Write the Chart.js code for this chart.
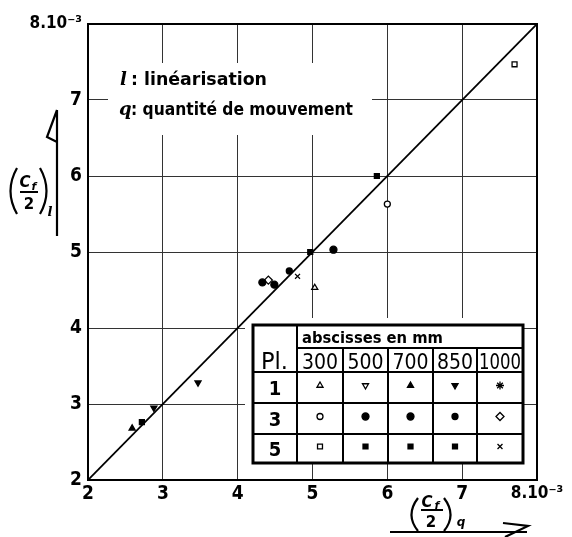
<!DOCTYPE html>
<html>
<head>
<meta charset="utf-8">
<script src="https://cdn.jsdelivr.net/npm/chart.js@4.4.1/dist/chart.umd.min.js"></script>
<style>
  body { margin: 0; background: #fff; }
  #cadre { width: 572px; height: 537px; }
</style>
</head>
<body>
<div id="cadre"><canvas id="graphe" width="572" height="537"></canvas></div>
<script>
// axes : (Cf/2) en 10^-3
var ticksAxe = [2, 3, 4, 5, 6, 7, 8];
var planches = [1, 3, 5];
var abscisses = [300, 500, 700, 850, 1000];

// points mesurés : q (quantité de mouvement) en x, l (linéarisation) en y
var pointsQ = [2.59, 2.72, 2.88, 3.47, 4.33, 4.41, 4.49, 4.69, 4.80, 5.03, 4.97, 5.28, 5.86, 6.00, 7.70];
var pointsL = [2.68, 2.76, 2.95, 3.28, 4.60, 4.63, 4.57, 4.75, 4.68, 4.53, 5.00, 5.03, 6.00, 5.63, 7.47];
var pointsPl = [1, 5, 1, 1, 3, 3, 3, 3, 5, 1, 5, 3, 5, 3, 5];
var pointsAbs = [700, 500, 850, 850, 500, 1000, 700, 850, 1000, 300, 700, 500, 850, 300, 300];

// droite l = q
var diagonale = [2, 8];

// symbole de chaque couple planche / abscisse
var symboles = {
  '1-300':  { style: 'triangle', plein: false, r: 3.5, rot: 0 },
  '1-500':  { style: 'triangle', plein: false, r: 3.5, rot: 180 },
  '1-700':  { style: 'triangle', plein: true,  r: 3.5, rot: 0 },
  '1-850':  { style: 'triangle', plein: true,  r: 3.5, rot: 180 },
  '1-1000': { style: 'star',     plein: true,  r: 4,   rot: 0 },
  '3-300':  { style: 'circle',   plein: false, r: 3,   rot: 0 },
  '3-500':  { style: 'circle',   plein: true,  r: 3.5, rot: 0 },
  '3-700':  { style: 'circle',   plein: true,  r: 3.5, rot: 0 },
  '3-850':  { style: 'circle',   plein: true,  r: 3,   rot: 0 },
  '3-1000': { style: 'rectRot',  plein: false, r: 4,   rot: 0 },
  '5-300':  { style: 'rect',     plein: false, r: 3.5, rot: 0 },
  '5-500':  { style: 'rect',     plein: true,  r: 3.5, rot: 0 },
  '5-700':  { style: 'rect',     plein: true,  r: 3.5, rot: 0 },
  '5-850':  { style: 'rect',     plein: true,  r: 3.5, rot: 0 },
  '5-1000': { style: 'crossRot', plein: false, r: 3.5, rot: 0 }
};

var datasets = [{
  type: 'line',
  data: diagonale.map(function (v) { return { x: v, y: v }; }),
  borderColor: '#000',
  borderWidth: 1.8,
  pointRadius: 0
}];

Object.keys(symboles).forEach(function (cle) {
  var pts = [];
  for (var i = 0; i < pointsQ.length; i++) {
    if (pointsPl[i] + '-' + pointsAbs[i] === cle) pts.push({ x: pointsQ[i], y: pointsL[i] });
  }
  if (!pts.length) return;
  var s = symboles[cle];
  datasets.push({
    type: 'scatter',
    data: pts,
    pointStyle: s.style,
    rotation: s.rot,
    pointRadius: s.r,
    pointBorderWidth: 1.3,
    pointBorderColor: '#000',
    pointBackgroundColor: s.plein ? '#000' : '#fff'
  });
});

function texteAjuste(ctx, txt, x, y, largeur) {
  var w = ctx.measureText(txt).width;
  ctx.save();
  ctx.translate(x, y);
  ctx.scale(largeur / w, 1);
  ctx.fillText(txt, 0, 0);
  ctx.restore();
}

function symbole(ctx, s, x, y) {
  ctx.save();
  ctx.fillStyle = s.plein ? '#000' : '#fff';
  ctx.strokeStyle = '#000';
  ctx.lineWidth = 1.3;
  if (Chart.helpers && Chart.helpers.drawPoint) {
    Chart.helpers.drawPoint(ctx, { pointStyle: s.style, radius: s.r, rotation: s.rot, borderWidth: 1.3 }, x, y);
  } else {
    ctx.beginPath(); ctx.arc(x, y, s.r, 0, Math.PI * 2); ctx.fill(); ctx.stroke();
  }
  ctx.restore();
}

var habillage = {
  id: 'habillage',
  beforeDatasetsDraw: function (chart) {
    var ctx = chart.ctx;
    ctx.save();
    // blancs dans le quadrillage (légende et tableau)
    ctx.fillStyle = '#fff';
    ctx.fillRect(108, 63, 264, 72);
    ctx.fillRect(245, 318, 279, 146);

    // légende
    ctx.fillStyle = '#000';
    ctx.textBaseline = 'alphabetic';
    ctx.font = 'italic bold 18px "DejaVu Serif"';
    ctx.fillText('l', 120, 85);
    ctx.fillText('q', 119, 115);
    ctx.font = 'bold 17px "DejaVu Sans Condensed", "DejaVu Sans"';
    texteAjuste(ctx, ': linéarisation', 131, 85, 136);
    texteAjuste(ctx, ': quantité de mouvement', 131, 115, 222);

    // tableau des symboles
    var cols = [253, 297, 343, 388, 433, 477, 523];
    var rangs = [325, 348, 372, 403, 434, 463];
    ctx.strokeStyle = '#000';
    ctx.lineWidth = 2;
    ctx.beginPath();
    for (var r = 1; r < rangs.length - 1; r++) {
      var x0 = (r === 1) ? cols[1] : cols[0];
      ctx.moveTo(x0, rangs[r]); ctx.lineTo(cols[6], rangs[r]);
    }
    for (var c = 1; c < cols.length - 1; c++) {
      var y0 = (c === 1) ? rangs[0] : rangs[1];
      ctx.moveTo(cols[c], y0); ctx.lineTo(cols[c], rangs[5]);
    }
    ctx.stroke();
    ctx.lineWidth = 3;
    ctx.strokeRect(cols[0], rangs[0], cols[6] - cols[0], rangs[5] - rangs[0]);

    ctx.textAlign = 'left';
    ctx.font = 'bold 15px "DejaVu Sans Condensed", "DejaVu Sans"';
    texteAjuste(ctx, 'abscisses en mm', 302, 343, 141);
    ctx.font = '23px "DejaVu Sans Condensed", "DejaVu Sans"';
    texteAjuste(ctx, 'Pl.', 261, 369, 27);
    ctx.font = '21px "DejaVu Sans Condensed", "DejaVu Sans"';
    ctx.textAlign = 'center';
    abscisses.forEach(function (a, i) {
      var cx = (cols[i + 1] + cols[i + 2]) / 2;
      var w = ctx.measureText(String(a)).width;
      var larg = Math.min(w, cols[i + 2] - cols[i + 1] - 4);
      ctx.save();
      ctx.translate(cx, 369);
      ctx.scale(larg / w, 1);
      ctx.fillText(String(a), 0, 0);
      ctx.restore();
    });
    ctx.font = 'bold 20px "DejaVu Sans Condensed", "DejaVu Sans"';
    planches.forEach(function (p, j) {
      var cy = (rangs[j + 2] + rangs[j + 3]) / 2;
      ctx.fillText(String(p), (cols[0] + cols[1]) / 2, cy + 7);
      abscisses.forEach(function (a, i) {
        var cx = (cols[i + 1] + cols[i + 2]) / 2;
        symbole(ctx, symboles[p + '-' + a], cx, cy - 2);
      });
    });
    ctx.restore();
  },
  afterDraw: function (chart) {
    var ctx = chart.ctx, a = chart.chartArea;
    ctx.save();
    ctx.strokeStyle = '#000';
    ctx.lineWidth = 2;
    ctx.strokeRect(a.left, a.top, a.right - a.left, a.bottom - a.top);

    ctx.fillStyle = '#000';
    ctx.lineWidth = 2.2;
    ctx.textAlign = 'center';
    ctx.textBaseline = 'alphabetic';

    // titre axe vertical (Cf/2)l et sa flèche
    ctx.beginPath();
    ctx.moveTo(17, 168); ctx.quadraticCurveTo(4, 191, 17, 214);
    ctx.moveTo(40, 168); ctx.quadraticCurveTo(53, 191, 40, 214);
    ctx.moveTo(20, 192); ctx.lineTo(38, 192);
    ctx.stroke();
    ctx.font = 'italic bold 15px "DejaVu Sans"';
    ctx.fillText('C', 25, 187);
    ctx.font = 'italic bold 11px "DejaVu Sans"';
    ctx.fillText('f', 34, 190);
    ctx.font = 'bold 15px "DejaVu Sans"';
    ctx.fillText('2', 29, 209);
    ctx.font = 'italic bold 13px "DejaVu Serif"';
    ctx.fillText('l', 50, 216);
    ctx.beginPath();
    ctx.moveTo(57, 110); ctx.lineTo(57, 236);
    ctx.moveTo(57, 110); ctx.lineTo(47, 137); ctx.lineTo(57, 142);
    ctx.stroke();

    // titre axe horizontal (Cf/2)q et sa flèche
    ctx.beginPath();
    ctx.moveTo(418, 498); ctx.quadraticCurveTo(405, 515, 418, 531);
    ctx.moveTo(444, 498); ctx.quadraticCurveTo(457, 515, 444, 531);
    ctx.moveTo(421, 510); ctx.lineTo(443, 510);
    ctx.stroke();
    ctx.font = 'italic bold 15px "DejaVu Sans"';
    ctx.fillText('C', 427, 507);
    ctx.font = 'italic bold 11px "DejaVu Sans"';
    ctx.fillText('f', 437, 509);
    ctx.font = 'bold 15px "DejaVu Sans"';
    ctx.fillText('2', 431, 527);
    ctx.font = 'italic bold 12px "DejaVu Sans"';
    ctx.fillText('q', 461, 526);
    ctx.beginPath();
    ctx.moveTo(390, 532); ctx.lineTo(527, 532);
    ctx.moveTo(503, 523); ctx.lineTo(528, 526); ctx.lineTo(505, 537);
    ctx.stroke();
    ctx.restore();
  }
};

function libelle(v) {
  return v === 8 ? '8.10⁻³' : String(v);
}

// le dernier libellé (8.10-3) est écrit un peu plus petit
function police(c) {
  var petit = c.tick && c.tick.value === 8;
  return { family: '"DejaVu Sans Condensed", "DejaVu Sans"', size: petit ? 17 : 19, weight: 'bold' };
}

new Chart(document.getElementById('graphe').getContext('2d'), {
  data: { datasets: datasets },
  plugins: [habillage],
  options: {
    responsive: false,
    animation: false,
    layout: { padding: { top: 24, right: 35, left: 0, bottom: 0 } },
    plugins: { legend: { display: false }, tooltip: { enabled: false } },
    scales: {
      x: {
        type: 'linear',
        min: ticksAxe[0],
        max: ticksAxe[ticksAxe.length - 1],
        afterBuildTicks: function (s) { s.ticks = ticksAxe.map(function (v) { return { value: v }; }); },
        afterFit: function (s) { s.height = 57; },
        ticks: { callback: libelle, color: '#000', font: police, padding: 3, maxRotation: 0 },
        grid: { color: '#333', lineWidth: 1, drawTicks: false },
        border: { color: '#000', width: 2 }
      },
      y: {
        type: 'linear',
        min: ticksAxe[0],
        max: ticksAxe[ticksAxe.length - 1],
        afterBuildTicks: function (s) { s.ticks = ticksAxe.map(function (v) { return { value: v }; }); },
        afterFit: function (s) { s.width = 88; },
        ticks: { callback: libelle, color: '#000', font: police, padding: 6 },
        grid: { color: '#333', lineWidth: 1, drawTicks: false },
        border: { color: '#000', width: 2 }
      }
    }
  }
});
</script>
</body>
</html>
